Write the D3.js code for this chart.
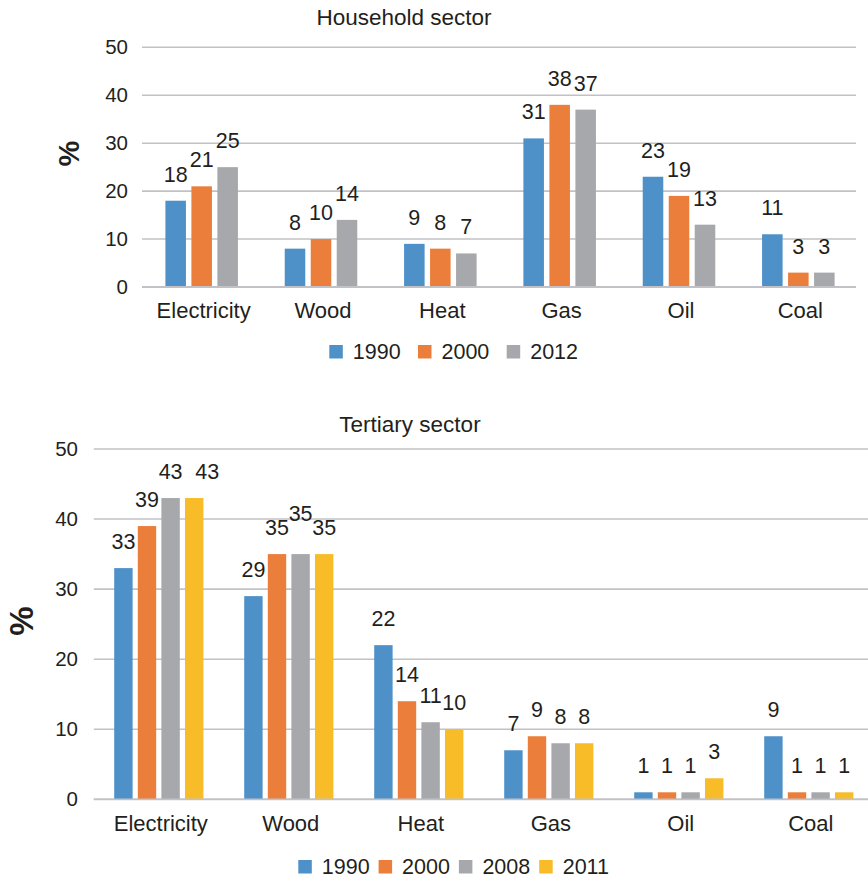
<!DOCTYPE html>
<html>
<head>
<meta charset="utf-8">
<script src="https://cdn.jsdelivr.net/npm/d3@7"></script>
<style>
  html, body { margin: 0; padding: 0; background: #ffffff; }
  svg { display: block; }
  text { font-family: "Liberation Sans", Arial, Helvetica, sans-serif; fill: #231f20; }
</style>
</head>
<body>
<svg id="chart" width="868" height="878"></svg>
<script>
// Energy sources by sector (shares in %)
const categories = ["Electricity", "Wood", "Heat", "Gas", "Oil", "Coal"];
const yTicks = [0, 10, 20, 30, 40, 50];

const householdYears = ["1990", "2000", "2012"];
const household1990 = [18, 8, 9, 31, 23, 11];
const household2000 = [21, 10, 8, 38, 19, 3];
const household2012 = [25, 14, 7, 37, 13, 3];

const tertiaryYears = ["1990", "2000", "2008", "2011"];
const tertiary1990 = [33, 29, 22, 7, 1, 9];
const tertiary2000 = [39, 35, 14, 9, 1, 1];
const tertiary2008 = [43, 35, 11, 8, 1, 1];
const tertiary2011 = [43, 35, 10, 8, 3, 1];

const yearColors = { "1990": "#4e91c9", "2000": "#eb7e3b", "2008": "#a7a8ab", "2011": "#f8bc29", "2012": "#a7a8ab" };

const svg = d3.select("#chart");

function drawPanel(cfg) {
  const g = svg.append("g");
  const x0 = d3.scaleBand().domain(categories).range([cfg.left, cfg.right]).padding(0);
  const x1 = d3.scaleBand().domain(cfg.years).range([0, x0.bandwidth()])
    .paddingInner(cfg.padInner).paddingOuter(cfg.padOuter);
  const y = d3.scaleLinear().domain([0, 50]).range([cfg.bottom, cfg.top]);

  // gridlines
  g.append("g").selectAll("line").data(yTicks).join("line")
    .attr("x1", cfg.left).attr("x2", cfg.gridEnd)
    .attr("y1", d => y(d)).attr("y2", d => y(d))
    .attr("stroke", "#c2c2c6").attr("stroke-width", 1.6);

  // y axis tick labels
  const yAxis = d3.axisLeft(y).tickValues(yTicks).tickSize(0).tickPadding(0);
  const ya = g.append("g").attr("transform", `translate(${cfg.tickRight},0)`).call(yAxis);
  ya.select(".domain").remove();
  ya.selectAll("text").attr("font-size", 20.5).attr("fill", "#231f20")
    .style("font-family", '"Liberation Sans", Arial, sans-serif');

  // x axis category labels
  const xAxis = d3.axisBottom(x0).tickSize(0).tickPadding(0);
  const xa = g.append("g").attr("transform", `translate(0,${cfg.bottom})`).call(xAxis);
  xa.select(".domain").remove();
  xa.selectAll("text").attr("font-size", 22).attr("fill", "#231f20").attr("dy", null)
    .attr("x", 2)
    .attr("y", cfg.catOffset)
    .style("font-family", '"Liberation Sans", Arial, sans-serif');

  // bars and value labels
  const rows = [];
  cfg.years.forEach((yr, si) => {
    cfg.series[si].forEach((v, ci) => rows.push({ cat: categories[ci], year: yr, value: v }));
  });
  g.append("g").selectAll("rect").data(rows).join("rect")
    .attr("x", d => x0(d.cat) + x1(d.year))
    .attr("width", x1.bandwidth())
    .attr("y", d => y(d.value))
    .attr("height", d => y(0) - y(d.value))
    .attr("fill", d => yearColors[d.year]);

  g.append("g").selectAll("text").data(rows).join("text")
    .attr("x", d => x0(d.cat) + x1(d.year) + x1.bandwidth() / 2 + ((cfg.nudge[d.cat + d.year] || [0, 0])[0]))
    .attr("y", d => y(d.value) - 19 + ((cfg.nudge[d.cat + d.year] || [0, 0])[1]))
    .attr("text-anchor", "middle").attr("font-size", 21.5)
    .text(d => d.value);

  // axis line at zero
  g.append("line").attr("x1", cfg.left).attr("x2", cfg.gridEnd)
    .attr("y1", y(0)).attr("y2", y(0)).attr("stroke", "#c2c2c6").attr("stroke-width", 1.8);

  // title
  g.append("text").attr("x", cfg.titleX).attr("y", cfg.titleY)
    .attr("text-anchor", "middle").attr("font-size", 22.5).text(cfg.title);

  // y axis unit
  g.append("text").attr("transform", `translate(${cfg.unitX},${cfg.unitY}) rotate(-90)`)
    .attr("text-anchor", "middle").attr("font-size", cfg.unitSize).attr("font-weight", "bold")
    .text("%");

  // legend
  const lg = g.append("g");
  cfg.years.forEach((yr, i) => {
    const lx = cfg.legendX + i * cfg.legendStep;
    lg.append("rect").attr("x", lx).attr("y", cfg.legendY - 13.5)
      .attr("width", 13.5).attr("height", 13.5).attr("fill", yearColors[yr]);
    lg.append("text").attr("x", lx + 23.5).attr("y", cfg.legendY)
      .attr("font-size", 21.5).text(yr);
  });
}

drawPanel({
  title: "Household sector", titleX: 404, titleY: 25,
  years: householdYears, series: [household1990, household2000, household2012],
  left: 142, right: 858, gridEnd: 856, top: 47.3, bottom: 287,
  padInner: 0.21, padOuter: 0.9, tickRight: 128, catOffset: 31,
  unitX: 79, unitY: 153.5, unitSize: 29,
  legendX: 329.3, legendStep: 88.7, legendY: 358.5,
  nudge: {}
});

drawPanel({
  title: "Tertiary sector", titleX: 410, titleY: 431.5,
  years: tertiaryYears, series: [tertiary1990, tertiary2000, tertiary2008, tertiary2011],
  left: 93.8, right: 873.8, gridEnd: 874, top: 449, bottom: 799.3,
  padInner: 0.22, padOuter: 0.865, tickRight: 78, catOffset: 32,
  unitX: 33, unitY: 621, unitSize: 33,
  legendX: 298.3, legendStep: 80.3, legendY: 873.5,
  nudge: { "Electricity2011": [13, 0], "Wood2008": [0, -14] }
});
</script>
</body>
</html>
